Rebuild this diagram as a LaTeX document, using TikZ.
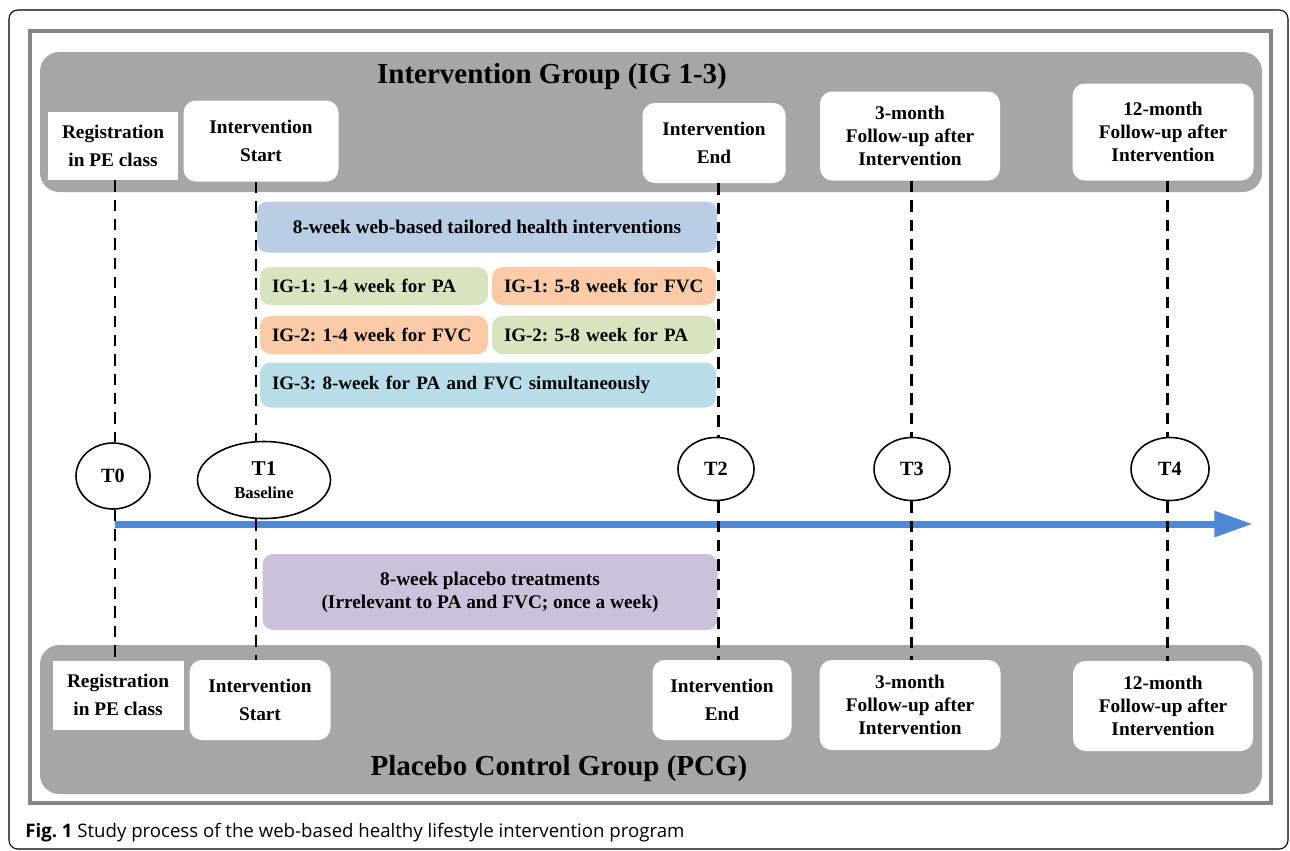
\documentclass[tikz,border=0pt]{standalone}
\usepackage{fontspec}
\setmainfont{Liberation Serif}
\newfontfamily\capfont{Open Sans}
\usetikzlibrary{
  arrows.meta,
  shapes.geometric,
  positioning}
\frenchspacing

\definecolor{bandgray}{HTML}{A6A6A6}
\definecolor{framegray}{HTML}{858585}
\definecolor{webblue}{HTML}{B9CDE5}
\definecolor{pagreen}{HTML}{D7E4BD}
\definecolor{fvcpeach}{HTML}{FACBA6}
\definecolor{bothteal}{HTML}{B7DDE8}
\definecolor{placebo}{HTML}{CCC1DA}
\definecolor{timeblue}{HTML}{4F88D6}

\begin{document}
\begin{tikzpicture}[
  x=0.02cm, y=-0.02cm,
  size/.style 2 args={minimum width=#1*0.02cm, minimum height=#2*0.02cm},
  milestone/.style={fill=white, rounded corners=7pt, align=center, inner sep=0pt,
    font=\bfseries\fontsize{11}{13}\selectfont},
  timepoint/.style={ellipse, draw, line width=0.9pt, fill=white, inner sep=0pt,
    font=\bfseries\fontsize{11.5}{13}\selectfont},
  phase/.style={rounded corners=6pt, inner sep=0pt,
    font=\bfseries\fontsize{11}{13}\selectfont},
  phaseleft/.style={phase, align=left, inner xsep=0.24cm,
    font=\bfseries\fontsize{10.8}{13}\selectfont},
  grouptitle/.style={font=\bfseries\fontsize{16.5}{20}\selectfont},
  timeline/.style={line width=1.7pt, dash pattern=on 6.5pt off 4.5pt}
]%
  \useasboundingbox (0,0) rectangle (1290,850);

  % Frames and group bands
  \draw[line width=0.6pt, rounded corners=5pt] (9,10) rectangle (1288,849);
  \draw[framegray, line width=2.2pt] (30,31) rectangle (1271,803);
  \fill[bandgray, rounded corners=11pt] (40,52) rectangle (1262,192);
  \fill[bandgray, rounded corners=11pt] (40,645) rectangle (1262,794);

  % Time axis
  \coordinate (l0) at (115,0);
  \coordinate (l1) at (256,0);
  \coordinate (l2) at (718,0);
  \coordinate (l3) at (911,0);
  \coordinate (l4) at (1167,0);
  \draw[timeblue, line width=4pt, -{Triangle[length=22pt,width=14pt]}]
    (l0 |- 0,524) -- (1253,524);

  % Intervention group
  \node[grouptitle] (titleIG) at (552,77) {Intervention Group (IG 1-3)};
  \node[milestone, sharp corners, size={130}{68}] (regIG) at (113,146)
    {Registration\\[3pt]in PE class};
  \node[milestone, size={155}{81}] (startIG) at (261,141)
    {Intervention\\[3pt]Start};
  \node[milestone, size={143}{80}] (endIG) at (714,143)
    {Intervention\\[3pt]End};
  \node[milestone, size={180}{89}] (fu3IG) at (910,136)
    {3-month\\Follow-up after\\Intervention};
  \node[milestone, size={181}{97}] (fu12IG) at (1163,132)
    {12-month\\Follow-up after\\Intervention};

  % Placebo control group
  \node[grouptitle] (titlePCG) at (559,769) {Placebo Control Group (PCG)};
  \node[milestone, sharp corners, size={131}{69}] (regPCG) at (118,695)
    {Registration\\[3pt]in PE class};
  \node[milestone, size={141}{80}] (startPCG) at (260,700)
    {Intervention\\[3pt]Start};
  \node[milestone, size={139}{80}] (endPCG) at (722,700)
    {Intervention\\[3pt]End};
  \node[milestone, size={181}{90}] (fu3PCG) at (910,705)
    {3-month\\Follow-up after\\Intervention};
  \node[milestone, size={180}{90}] (fu12PCG) at (1163,706)
    {12-month\\Follow-up after\\Intervention};

  % Intervention contents
  \node[phase, fill=webblue, size={460}{51}] (web) at (487,227)
    {8-week web-based tailored health interventions};
  \node[phaseleft, fill=pagreen, minimum height=0.76cm, text width=4.08cm] (ig1pa) at (374,286)
    {IG-1: 1-4 week for PA};
  \node[phaseleft, fill=fvcpeach, minimum height=0.76cm, text width=4.0cm] (ig1fvc) at (604,286)
    {IG-1: 5-8 week for FVC};
  \node[phaseleft, fill=fvcpeach, minimum height=0.76cm, text width=4.08cm] (ig2fvc) at (374,335)
    {IG-2: 1-4 week for FVC};
  \node[phaseleft, fill=pagreen, minimum height=0.76cm, text width=4.0cm] (ig2pa) at (604,335)
    {IG-2: 5-8 week for PA};
  \node[phaseleft, fill=bothteal, minimum height=0.9cm, text width=8.64cm] (ig3) at (488,385)
    {IG-3: 8-week for PA and FVC simultaneously};
  \node[phase, fill=placebo, size={455}{76}, align=center] (placebo) at (490,592)
    {8-week placebo treatments\\(Irrelevant to PA and FVC; once a week)};

  % Time points
  \node[timepoint, size={74}{66}] (t0) at (113,476) {T0};
  \node[timepoint, size={133}{77}, align=center] (t1) at (264,480)
    {\fontsize{12}{13}\selectfont T1\\\fontsize{9.5}{12}\selectfont Baseline};
  \node[timepoint, size={76}{63}] (t2) at (716,469) {T2};
  \node[timepoint, size={76}{63}] (t3) at (912,469) {T3};
  \node[timepoint, size={78}{63}] (t4) at (1170,469) {T4};

  % Dashed milestone lines
  \draw[timeline] (l0 |- regIG.south) -- (l0 |- t0.north);
  \draw[timeline] (l0 |- t0.south) -- (l0 |- regPCG.north);
  \draw[timeline] (l1 |- startIG.south) -- (l1 |- t1.north);
  \draw[timeline] (l1 |- t1.south) -- (l1 |- startPCG.north);
  \draw[timeline] (l2 |- endIG.south) -- (l2 |- t2.north);
  \draw[timeline] (l2 |- t2.south) -- (l2 |- endPCG.north);
  \draw[timeline] (l3 |- fu3IG.south) -- (l3 |- t3.north);
  \draw[timeline] (l3 |- t3.south) -- (l3 |- fu3PCG.north);
  \draw[timeline] (l4 |- fu12IG.south) -- (l4 |- t4.north);
  \draw[timeline] (l4 |- t4.south) -- (l4 |- fu12PCG.north);

  % Caption
  \node[anchor=base west, inner sep=0pt, font=\capfont\fontsize{10.6}{12}\selectfont] (caption) at (25,837)
    {\textbf{Fig. 1} Study process of the web-based healthy lifestyle intervention program};
\end{tikzpicture}
\end{document}
